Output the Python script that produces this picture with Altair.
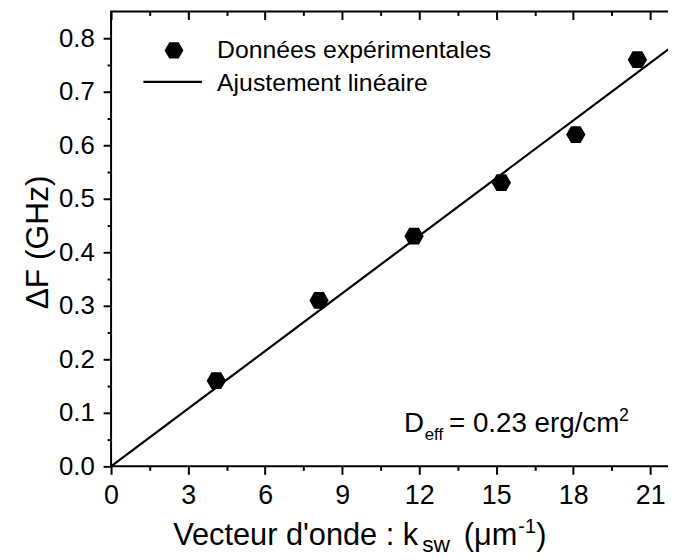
import altair as alt
import pandas as pd

# ---- data ----
k_sw = [4.1, 8.1, 11.8, 15.2, 18.1, 20.5]
delta_f = [0.16, 0.31, 0.43, 0.53, 0.62, 0.76]
fit_k = [0.0, 22.0]
fit_f = [0.0, 0.79]

x_major = [0, 3, 6, 9, 12, 15, 18, 21]
x_minor = [1.5, 4.5, 7.5, 10.5, 13.5, 16.5, 19.5]
y_major = [0.0, 0.1, 0.2, 0.3, 0.4, 0.5, 0.6, 0.7, 0.8]
y_minor = [0.05, 0.15, 0.25, 0.35, 0.45, 0.55, 0.65, 0.75]

legend_labels = ["Données expérimentales", "Ajustement linéaire"]
y_title = "ΔF (GHz)"

W, H = 570, 459
FONT = "Liberation Sans"
HEX = "M1,0L0.5,0.866L-0.5,0.866L-1,0L-0.5,-0.866L0.5,-0.866Z"

pts = pd.DataFrame({"k": k_sw, "f": delta_f})
fit = pd.DataFrame({"k": fit_k, "f": fit_f})
one = pd.DataFrame({"a": [0]})

xs = alt.Scale(domain=[0, 22], nice=False, zero=False)
ys = alt.Scale(domain=[0, 0.85], nice=False, zero=False)

common = dict(domain=False, grid=False, tickColor="black", tickWidth=2, title=None)

# main axes (labels + major ticks)
points = alt.Chart(pts).mark_point(
    shape=HEX, size=380, filled=True, fill="black", opacity=1, strokeWidth=0
).encode(
    x=alt.X("k:Q", scale=xs, axis=alt.Axis(
        orient="bottom", values=x_major, tickSize=8, labelFontSize=27, labelPadding=9,
        labelColor="black", labelFont=FONT, format="d", labelFlush=False,
        domain=False, grid=False, tickColor="black", tickWidth=2, title=None)),
    y=alt.Y("f:Q", scale=ys, axis=alt.Axis(
        orient="left", values=y_major, tickSize=8, labelFontSize=26, labelPadding=9,
        labelColor="black", labelFont=FONT, format=".1f", labelFlush=False,
        domain=False, grid=False, tickColor="black", tickWidth=2,
        title=y_title, titleFontSize=32, titleFont=FONT, titleFontWeight="normal",
        titleColor="black", titleX=-64, titleY=H / 2 + 3, titleAngle=270,
        titleAlign="center", titleBaseline="alphabetic")),
)

# fitted line + minor ticks bottom/left
line = alt.Chart(fit).mark_line(color="black", strokeWidth=2.2, clip=True).encode(
    x=alt.X("k:Q", scale=xs, axis=alt.Axis(orient="bottom", values=x_minor, tickSize=4,
                                           labels=False, **common)),
    y=alt.Y("f:Q", scale=ys, axis=alt.Axis(orient="left", values=y_minor, tickSize=4,
                                           labels=False, **common)),
)

# mirrored axes (top/right) with inward ticks
top_major = alt.Chart(fit).mark_point(opacity=0).encode(
    x=alt.X("k:Q", scale=xs, axis=alt.Axis(orient="bottom", offset=-H, values=x_major,
                                           tickSize=8, labels=False, **common)),
    y=alt.Y("f:Q", scale=ys, axis=alt.Axis(orient="left", offset=-W, values=y_major,
                                           tickSize=8, labels=False, **common)),
)
top_minor = alt.Chart(fit).mark_point(opacity=0).encode(
    x=alt.X("k:Q", scale=xs, axis=alt.Axis(orient="bottom", offset=-H, values=x_minor,
                                           tickSize=4, labels=False, **common)),
    y=alt.Y("f:Q", scale=ys, axis=alt.Axis(orient="left", offset=-W, values=y_minor,
                                           tickSize=4, labels=False, **common)),
)


def txt(s, x, y, size, baseline="alphabetic", align="left"):
    return alt.Chart(one).mark_text(
        text=s, font=FONT, fontSize=size, color="black", align=align, baseline=baseline
    ).encode(x=alt.value(x), y=alt.value(y))


# legend
leg_sym = alt.Chart(one).mark_point(
    shape=HEX, size=361, filled=True, fill="black", opacity=1, strokeWidth=0
).encode(x=alt.value(63.5), y=alt.value(39.3))
leg_line = alt.Chart(one).mark_rule(color="black", strokeWidth=2.2).encode(
    x=alt.value(32.7), x2=alt.value(91.7), y=alt.value(71)
)
leg_t1 = txt(legend_labels[0], 107, 39, 25, baseline="middle")
leg_t2 = txt(legend_labels[1], 107, 72, 25, baseline="middle")

# annotation D_eff = 0.23 erg/cm^2
a1 = txt("D", 295.7, 424, 28)
a2 = txt("eff", 316.5, 432, 17)
a3 = txt("= 0.23 erg/cm", 341, 424, 28)
a4 = txt("2", 512.5, 413, 18)

# x axis title with subscript / superscript
t1 = txt("Vecteur d'onde : k", 62.7, 538, 31)
t2 = txt("sw", 314, 545, 23)
t3 = txt("(μm", 356, 538, 31)
t4 = txt("-1", 411, 526, 20)
t5 = txt(")", 429, 538, 31)

chart = alt.layer(
    line, points, top_major, top_minor,
    leg_sym, leg_line, leg_t1, leg_t2,
    a1, a2, a3, a4, t1, t2, t3, t4, t5,
).resolve_axis(x="independent", y="independent").properties(
    width=W, height=H,
    autosize=alt.AutoSizeParams(type="none"),
    padding={"left": 104, "top": 1, "right": -8, "bottom": 91},
    background="white",
).configure_view(stroke="black", strokeWidth=2)

chart.save("out.html", embed_options={"renderer": "svg", "actions": False})
